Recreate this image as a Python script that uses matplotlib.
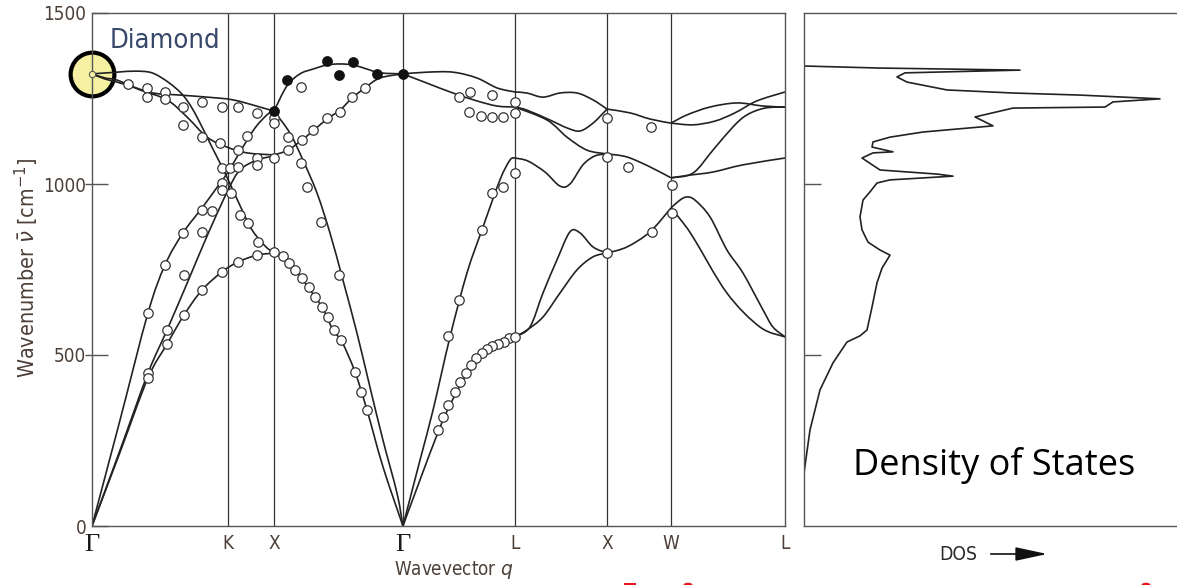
import os
import matplotlib
matplotlib.use("Agg")
import matplotlib.pyplot as plt
import numpy as np
from matplotlib.path import Path
from matplotlib.patches import PathPatch, FancyArrowPatch, Wedge, Rectangle
from matplotlib import font_manager as fm

# ---------------- data ----------------
sym_q = [0.0, 1.057, 1.414, 2.416, 3.287, 4.002, 4.499, 5.385]
sym_labels = ["Γ", "K", "X", "Γ", "L", "X", "W", "L"]
y_ticks = [0, 500, 1000, 1500]

# Gamma-K-X
gkx_ta1_q = [0, 0.218, 0.435, 0.583, 0.715, 0.855, 1.010, 1.134, 1.282, 1.414]
gkx_ta1_nu = [0, 216, 433, 532, 617, 690, 743, 772, 792, 798]
gkx_ta2_q = [0, 0.218, 0.435, 0.583, 0.746, 0.901, 1.057, 1.150, 1.282, 1.414]
gkx_ta2_nu = [0, 222, 447, 573, 716, 854, 982, 1041, 1070, 1082]
gkx_la_q = [0, 0.218, 0.435, 0.567, 0.707, 0.855, 0.979, 1.057, 1.150, 1.267, 1.368, 1.414]
gkx_la_nu = [0, 310, 623, 763, 857, 930, 994, 1035, 1094, 1164, 1205, 1213]
gkx_oa_q = [0, 0.194, 0.334, 0.466, 0.591, 0.699, 0.777, 0.855, 0.932, 1.010, 1.088, 1.166, 1.243, 1.344, 1.414]
gkx_oa_nu = [1322, 1327, 1330, 1325, 1298, 1263, 1222, 1167, 1108, 1050, 988, 924, 866, 819, 798]
gkx_ob_q = [0, 0.101, 0.194, 0.319, 0.474, 0.684, 0.894, 1.096, 1.305, 1.414]
gkx_ob_nu = [1322, 1307, 1298, 1284, 1266, 1260, 1254, 1246, 1225, 1213]
gkx_oc_q = [0, 0.101, 0.194, 0.373, 0.583, 0.738, 0.894, 1.049, 1.204, 1.414]
gkx_oc_nu = [1322, 1310, 1304, 1275, 1246, 1196, 1137, 1108, 1091, 1085]

# X-Gamma
xg_lo_q = [1.414, 1.515, 1.616, 1.717, 1.826, 1.927, 2.028, 2.137, 2.238, 2.416]
xg_lo_nu = [1213, 1287, 1322, 1336, 1348, 1351, 1348, 1336, 1325, 1322]
xg_to_q = [1.414, 1.523, 1.632, 1.717, 1.826, 1.927, 2.020, 2.121, 2.238, 2.416]
xg_to_nu = [1085, 1099, 1129, 1155, 1190, 1216, 1251, 1281, 1310, 1322]
xg_la_q = [1.414, 1.538, 1.639, 1.748, 1.849, 1.950, 2.059, 2.160, 2.261, 2.370, 2.416]
xg_la_nu = [1213, 1149, 1070, 974, 857, 719, 564, 406, 251, 96, 0]
xg_ta_q = [1.414, 1.484, 1.577, 1.678, 1.787, 1.873, 1.943, 2.044, 2.137, 2.261, 2.416]
xg_ta_nu = [798, 787, 749, 699, 640, 573, 538, 450, 339, 173, 0]

# Gamma-L
gl_o1_q = [2.416, 2.603, 2.805, 2.991, 3.147, 3.287]
gl_o1_nu = [1322, 1327, 1327, 1310, 1281, 1269]
gl_o2_q = [2.416, 2.603, 2.805, 2.991, 3.147, 3.287]
gl_o2_nu = [1322, 1295, 1266, 1243, 1228, 1225]
gl_la_q = [2.416, 2.549, 2.650, 2.782, 2.914, 3.038, 3.170, 3.248, 3.287]
gl_la_nu = [0, 193, 339, 553, 740, 874, 1012, 1070, 1076]
gl_ta_q = [2.416, 2.549, 2.696, 2.782, 2.914, 3.038, 3.170, 3.287]
gl_ta_nu = [0, 135, 281, 354, 447, 515, 544, 553]

# L-X
lx_1_q = [3.287, 3.380, 3.504, 3.636, 3.769, 3.893, 4.002]
lx_1_nu = [1269, 1266, 1254, 1266, 1266, 1246, 1219]
lx_2_q = [3.287, 3.380, 3.559, 3.691, 3.792, 3.893, 4.002]
lx_2_nu = [1225, 1216, 1187, 1164, 1155, 1178, 1219]
lx_3_q = [3.287, 3.536, 3.691, 3.846, 4.002]
lx_3_nu = [1225, 1187, 1137, 1099, 1088]
lx_4_q = [3.287, 3.388, 3.520, 3.636, 3.714, 3.815, 3.908, 4.002]
lx_4_nu = [1076, 1067, 1035, 994, 1000, 1056, 1082, 1088]
lx_5_q = [3.287, 3.403, 3.504, 3.613, 3.714, 3.792, 3.893, 4.002]
lx_5_nu = [553, 582, 681, 778, 860, 857, 816, 798]
lx_6_q = [3.287, 3.380, 3.504, 3.636, 3.769, 3.893, 4.002]
lx_6_nu = [553, 573, 611, 681, 749, 787, 798]

# X-W
xw_1_q = [4.002, 4.180, 4.336, 4.499]
xw_1_nu = [1219, 1208, 1190, 1178]
xw_2_q = [4.002, 4.157, 4.336, 4.499]
xw_2_nu = [1088, 1079, 1050, 1018]
xw_3_q = [4.002, 4.157, 4.336, 4.499]
xw_3_nu = [798, 816, 860, 930]

# W-L
wl_a_q = [4.499, 4.623, 4.802, 5.012, 5.214, 5.385]
wl_a_nu = [1178, 1202, 1225, 1237, 1228, 1225]
wl_b_q = [4.499, 4.670, 4.841, 4.996, 5.167, 5.385]
wl_b_nu = [1178, 1173, 1184, 1208, 1243, 1269]
wl_c_q = [4.499, 4.670, 4.825, 4.981, 5.089, 5.229, 5.385]
wl_c_nu = [1018, 1032, 1099, 1167, 1202, 1222, 1225]
wl_d_q = [4.499, 4.646, 4.825, 5.058, 5.385]
wl_d_nu = [1018, 1026, 1035, 1056, 1076]
wl_e_q = [4.499, 4.569, 4.623, 4.685, 4.802, 4.934, 5.058, 5.214, 5.291, 5.385]
wl_e_nu = [930, 953, 962, 953, 904, 807, 740, 632, 582, 553]
wl_f_q = [4.499, 4.569, 4.670, 4.934, 5.190, 5.385]
wl_f_nu = [930, 898, 845, 681, 582, 553]

# measured points (open circles)
open_q = [0.280, 0.427, 0.427, 0.567, 0.567, 0.707, 0.707, 0.855, 0.855, 1.010, 0.995, 1.134, 1.134,
          1.282, 1.204, 1.010, 1.072, 1.134, 1.282, 1.282, 1.414, 1.010, 1.010, 1.080, 1.150, 1.212,
          1.290, 0.855, 0.932, 0.707, 0.855, 0.567, 0.715, 0.855, 1.010, 1.134, 1.282, 1.414, 0.435,
          0.583, 0.583, 0.435, 0.435, 0.715, 1.414, 1.414,
          1.623, 1.523, 1.523, 1.631, 1.716, 1.825, 1.926, 2.019, 2.119, 1.623, 1.670, 1.778, 1.918,
          1.484, 1.530, 1.577, 1.631, 1.685, 1.732, 1.786, 1.832, 1.879, 1.933, 2.042, 2.088, 2.135,
          2.855, 2.940, 3.110, 3.287, 2.932, 3.025, 3.110, 3.195, 3.287, 3.287, 3.195, 3.110, 3.033,
          2.855, 2.770, 3.241, 3.203, 3.156, 3.110, 3.071, 3.033, 2.986, 2.947, 2.909, 2.862, 2.824,
          2.770, 2.731, 2.692, 3.287,
          4.002, 4.343, 4.002, 4.165, 4.507, 4.507, 4.351, 4.002]
open_nu = [1292, 1281, 1254, 1269, 1249, 1225, 1173, 1240, 1137, 1225, 1120, 1225, 1099,
           1208, 1140, 1047, 1047, 1050, 1076, 1056, 1076, 1003, 982, 974, 909, 886,
           830, 924, 921, 857, 860, 763, 734, 690, 743, 772, 792, 801, 623,
           573, 532, 447, 433, 617, 1193, 1178,
           1284, 1137, 1099, 1129, 1158, 1193, 1211, 1254, 1281, 1061, 991, 889, 734,
           789, 769, 749, 725, 699, 670, 640, 611, 573, 544, 450, 392, 339,
           1254, 1269, 1260, 1240, 1211, 1199, 1196, 1196, 1208, 1032, 991, 974, 866,
           661, 556, 550, 538, 532, 526, 518, 506, 491, 471, 447, 421, 392,
           354, 319, 281, 553,
           1193, 1167, 1079, 1050, 997, 915, 860, 798]
# measured points (filled circles)
dot_q = [1.414, 1.515, 1.825, 1.918, 2.026, 2.212, 2.416]
dot_nu = [1213, 1304, 1360, 1319, 1357, 1322, 1322]

# density of states trace (arbitrary units, frequency)
dos_val = [0.0, 0.06, 0.16, 0.29, 0.43, 0.56, 0.63, 0.68, 0.73, 0.78, 0.86, 0.76, 0.64, 0.58, 0.56,
           0.59, 0.66, 0.73, 0.86, 1.49, 1.33, 0.76, 0.58, 0.69, 0.89, 0.68, 0.69, 0.86, 1.19, 1.89,
           1.71, 2.09, 3.01, 3.09, 3.56, 2.76, 2.09, 1.43, 1.03, 0.93, 1.01, 2.16, 0.76, 0.0]
dos_nu = [155, 281, 398, 477, 538, 556, 573, 640, 711, 754, 792, 807, 830, 866, 904,
          953, 977, 1003, 1012, 1023, 1029, 1041, 1076, 1091, 1094, 1108, 1123, 1137, 1152, 1170,
          1196, 1222, 1225, 1240, 1249, 1260, 1266, 1275, 1298, 1313, 1325, 1333, 1339, 1345]

branches = [
    (gkx_ta1_q, gkx_ta1_nu), (gkx_ta2_q, gkx_ta2_nu), (gkx_la_q, gkx_la_nu),
    (gkx_oa_q, gkx_oa_nu), (gkx_ob_q, gkx_ob_nu), (gkx_oc_q, gkx_oc_nu),
    (xg_lo_q, xg_lo_nu), (xg_to_q, xg_to_nu), (xg_la_q, xg_la_nu), (xg_ta_q, xg_ta_nu),
    (gl_o1_q, gl_o1_nu), (gl_o2_q, gl_o2_nu), (gl_la_q, gl_la_nu), (gl_ta_q, gl_ta_nu),
    (lx_1_q, lx_1_nu), (lx_2_q, lx_2_nu), (lx_3_q, lx_3_nu), (lx_4_q, lx_4_nu),
    (lx_5_q, lx_5_nu), (lx_6_q, lx_6_nu),
    (xw_1_q, xw_1_nu), (xw_2_q, xw_2_nu), (xw_3_q, xw_3_nu),
    (wl_a_q, wl_a_nu), (wl_b_q, wl_b_nu), (wl_c_q, wl_c_nu), (wl_d_q, wl_d_nu),
    (wl_e_q, wl_e_nu), (wl_f_q, wl_f_nu),
]

# ---------------- fonts ----------------
def find_condensed():
    best = None
    for f in fm.fontManager.ttflist:
        base = os.path.basename(f.fname).lower()
        nm = f.name.lower()
        is_cond = ("condensed" in base or "narrow" in base or "narrow" in nm or "condensed" in nm
                   or str(f.stretch) in ("condensed", "semi-condensed", "extra-condensed"))
        if not is_cond:
            continue
        if "mono" in nm or "serif" in nm or f.style != "normal":
            continue
        if "bold" in base or "light" in base or "italic" in base or "oblique" in base \
                or "black" in base or "thin" in base or "medium" in base or "semibold" in base:
            continue
        if f.weight not in (400, "normal", "regular", "book"):
            continue
        score = 1 if ("semi" in base or "semi" in str(f.stretch)) else 2
        if best is None or score > best[0]:
            best = (score, f.fname)
    return best[1] if best else None


COND_FILE = find_condensed()


def fp(size):
    if COND_FILE:
        return fm.FontProperties(fname=COND_FILE, size=size)
    return fm.FontProperties(family="Roboto", size=size)


SERIF = "Liberation Serif"
LABEL_C = "#4b3f38"
LINE_C = "#222222"
SPINE_C = "#555555"

fig = plt.figure(figsize=(11.77, 5.85), dpi=100)
W, H = 1177.0, 585.0
renderer = fig.canvas.get_renderer()


def fit_size(s, w_px, cap_px):
    t = fig.text(0, 0, s, fontproperties=fp(20))
    w = t.get_window_extent(renderer).width
    t.remove()
    sw = 20.0 * w_px / w
    sh = cap_px / 0.72 / (100.0 / 72.0)
    return (sw * sh) ** 0.5


def smooth_path(q, nu):
    P = np.column_stack([q, nu]).astype(float)
    verts = [P[0]]
    codes = [Path.MOVETO]
    n = len(P)
    for i in range(n - 1):
        p0 = P[i - 1] if i > 0 else P[i]
        p1, p2 = P[i], P[i + 1]
        p3 = P[i + 2] if i + 2 < n else P[i + 1]
        verts += [p1 + (p2 - p0) / 6.0, p2 - (p3 - p1) / 6.0, p2]
        codes += [Path.CURVE4] * 3
    return Path(verts, codes)


ax = fig.add_axes([92 / W, 59 / H, 693 / W, 513 / H])
ax.set_xlim(sym_q[0], sym_q[-1])
ax.set_ylim(0, 1500)
for s in ax.spines.values():
    s.set_color(SPINE_C)
    s.set_linewidth(1.0)

for qv in sym_q[1:-1]:
    ax.axvline(qv, color="#333333", lw=0.9, zorder=1.8)

for q, nu in branches:
    ax.add_patch(PathPatch(smooth_path(q, nu), fill=False, edgecolor=LINE_C, lw=1.2, zorder=2.2))

ax.plot(open_q, open_nu, "o", ms=6.8, mfc="white", mec="#333333", mew=0.9, zorder=3, clip_on=False)
ax.plot(dot_q, dot_nu, "o", ms=7.2, mfc="#111111", mec="#111111", mew=0.5, zorder=3.1, clip_on=False)

# highlight circle at Gamma optical mode
ax.plot([0], [1322], "o", ms=31.5, mfc="#f6f1a2", mec="black", mew=3.0, zorder=1.5, clip_on=False)
ax.plot([0], [1322], "o", ms=4.5, mfc="#f6f1a2", mec="#555555", mew=0.8, zorder=3.2, clip_on=False)

tick_size = fit_size("1000", 39, 15)
ax.set_xticks(sym_q)
ax.set_xticklabels(sym_labels)
for i, t in enumerate(ax.get_xticklabels()):
    if sym_labels[i] == "Γ":
        t.set_fontfamily(SERIF)
        t.set_fontsize(19)
        t.set_color("#1a1a1a")
    else:
        t.set_fontproperties(fp(tick_size))
        t.set_color(LABEL_C)
ax.tick_params(axis="x", length=0, pad=6)

ax.set_yticks(y_ticks)
ax.set_yticklabels([str(v) for v in y_ticks], color=LABEL_C, fontproperties=fp(tick_size))
ax.tick_params(axis="y", which="major", direction="in", length=11.5, width=1.0, color=SPINE_C, pad=4)
ax.yaxis.remove_overlapping_locs = False
ax.set_yticks([500, 1000], minor=True)
ax.tick_params(axis="y", which="minor", direction="out", length=5, width=1.0, color=SPINE_C)

ylab_size = fit_size("Wavenumber v [cm-1]", 195, 17)
fig.text(27 / W, 1 - 268 / H, r"Wavenumber $\bar{\nu}$ [cm$^{-1}$]", rotation=90,
         ha="center", va="center", color=LABEL_C, fontproperties=fp(ylab_size))
fig.text(454 / W, 1 - 570 / H, r"Wavevector $q$", ha="center", va="center",
         color=LABEL_C, fontproperties=fp(fit_size("Wavevector q", 104, 15)))
fig.text(110 / W, 1 - 41 / H, "Diamond", ha="left", va="center",
         color="#36476a", fontproperties=fp(fit_size("Diamond", 98, 22)))

# ---------------- DOS panel ----------------
ax2 = fig.add_axes([804 / W, 59 / H, 373 / W, 513 / H])
ax2.set_xlim(0, 3.73)
ax2.set_ylim(0, 1500)
ax2.spines["right"].set_visible(False)
for s in ["left", "top", "bottom"]:
    ax2.spines[s].set_color(SPINE_C)
    ax2.spines[s].set_linewidth(1.0)
ax2.plot(dos_val, dos_nu, color=LINE_C, lw=1.2, solid_joinstyle="round")
ax2.set_xticks([])
ax2.set_yticks([500, 1000])
ax2.set_yticklabels([])
ax2.tick_params(axis="y", direction="in", length=12, width=1.0, color=SPINE_C)

fig.text(958 / W, 1 - 555 / H, "DOS", ha="center", va="center", color="#2a2a2a",
         fontproperties=fp(fit_size("DOS", 35, 15)))
fig.add_artist(FancyArrowPatch(
    (988 / W, 1 - 554 / H), (1050 / W, 1 - 554 / H), transform=fig.transFigure,
    arrowstyle="-|>,head_length=1.3,head_width=0.28", mutation_scale=15, color="#111111", lw=1.2))

fig.text(853 / W, 1 - 475 / H, "Density of States", ha="left", va="baseline",
         fontsize=26, color="black", family="Open Sans")

# small red marks cut by the lower edge
red = "#e8141c"
fig.add_artist(Rectangle((624 / W, 0), 12 / W, 2.5 / H, transform=fig.transFigure, color=red, lw=0))
fig.add_artist(Wedge((688 / W, 0), 4.5 / W, 0, 180, transform=fig.transFigure, color=red, lw=0))
fig.add_artist(Wedge((1146 / W, 0), 4.5 / W, 0, 180, transform=fig.transFigure, color=red, lw=0))

fig.savefig("out.png", dpi=100)
